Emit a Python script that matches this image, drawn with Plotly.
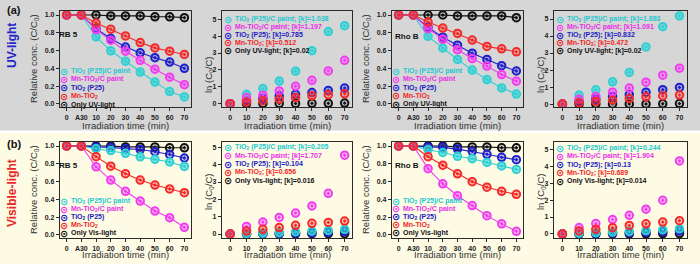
import plotly.graph_objects as go

W, H = 700, 264

# ---------------- data ----------------
conc_cats = ["0", "A30", "10", "20", "30", "40", "50", "60", "70"]
ln_times = [0, 10, 20, 30, 40, 50, 60, 70]

series_keys = ["cyan", "magenta", "blue", "red", "black"]
uv_names = ["TiO<sub>2</sub> (P25)/C paint", "Mn-TiO<sub>2</sub>/C paint",
            "TiO<sub>2</sub> (P25)", "Mn-TiO<sub>2</sub>", "Only UV-light"]
vis_names = ["TiO<sub>2</sub> (P25)/C paint", "Mn-TiO<sub>2</sub>/C paint",
             "TiO<sub>2</sub> (P25)", "Mn-TiO<sub>2</sub>", "Only Vis-light"]

k_rb5_uv = ["1.038", "1.197", "0.785", "0.512", "0.02"]
k_rhob_uv = ["1.883", "1.091", "0.832", "0.472", "0.02"]
k_rb5_vis = ["0.205", "1.707", "0.104", "0.656", "0.016"]
k_rhob_vis = ["0.244", "1.904", "0.13", "0.689", "0.014"]

# RB 5, UV light, relative concentration
rb5_uv_cyan = [1.0, 1.0, 0.754, 0.597, 0.48, 0.358, 0.246, 0.138, 0.078]
rb5_uv_magenta = [1.0, 1.0, 0.836, 0.716, 0.593, 0.49, 0.39, 0.30, 0.216]
rb5_uv_blue = [1.0, 1.0, 0.847, 0.735, 0.64, 0.575, 0.52, 0.47, 0.40]
rb5_uv_red = [1.0, 1.0, 0.91, 0.84, 0.765, 0.69, 0.63, 0.593, 0.556]
rb5_uv_black = [1.0, 1.0, 1.0, 0.99, 0.99, 0.99, 0.98, 0.98, 0.97]

# RB 5, UV light, ln(C0/C)
rb5_uv_ln_cyan = [0, 0.55, 0.89, 1.34, 1.92, 3.14, 4.27, 4.62]
rb5_uv_ln_magenta = [0, 0.36, 0.50, 0.75, 1.03, 1.38, 1.94, 2.57]
rb5_uv_ln_blue = [0, 0.17, 0.31, 0.45, 0.55, 0.66, 0.78, 0.92]
rb5_uv_ln_red = [0, 0.09, 0.17, 0.26, 0.37, 0.46, 0.53, 0.58]
rb5_uv_ln_black = [0, 0.0, 0.01, 0.01, 0.01, 0.02, 0.02, 0.03]

# Rho B, UV light, relative concentration
rhob_uv_cyan = [1.0, 1.0, 0.76, 0.628, 0.50, 0.38, 0.274, 0.18, 0.11]
rhob_uv_magenta = [1.0, 1.0, 0.846, 0.726, 0.61, 0.51, 0.425, 0.33, 0.256]
rhob_uv_blue = [1.0, 1.0, 0.86, 0.75, 0.66, 0.57, 0.50, 0.43, 0.37]
rhob_uv_red = [1.0, 1.0, 0.92, 0.853, 0.793, 0.718, 0.647, 0.62, 0.586]
rhob_uv_black = [1.0, 1.0, 1.0, 1.0, 0.99, 0.99, 0.99, 0.99, 0.97]

# Rho B, UV light, ln(C0/C)
rhob_uv_ln_cyan = [0, 0.53, 0.84, 1.31, 1.86, 3.36, 4.55, 5.18]
rhob_uv_ln_magenta = [0, 0.29, 0.45, 0.70, 0.94, 1.29, 1.70, 2.11]
rhob_uv_ln_blue = [0, 0.15, 0.29, 0.45, 0.56, 0.70, 0.85, 0.98]
rhob_uv_ln_red = [0, 0.08, 0.16, 0.23, 0.33, 0.43, 0.48, 0.53]
rhob_uv_ln_black = [0, 0.0, 0.01, 0.01, 0.01, 0.01, 0.02, 0.03]

# RB 5, visible light, relative concentration
rb5_vis_cyan = [1.0, 1.0, 0.97, 0.948, 0.918, 0.878, 0.85, 0.82, 0.77]
rb5_vis_magenta = [1.0, 1.0, 0.766, 0.617, 0.49, 0.38, 0.268, 0.193, 0.085]
rb5_vis_blue = [1.0, 1.0, 0.99, 0.985, 0.97, 0.96, 0.936, 0.905, 0.865]
rb5_vis_red = [1.0, 1.0, 0.88, 0.773, 0.688, 0.617, 0.561, 0.517, 0.475]
rb5_vis_black = [1.0, 1.0, 1.0, 1.0, 0.99, 0.99, 0.99, 0.98, 0.98]

# RB 5, visible light, ln(C0/C)
rb5_vis_ln_cyan = [0, 0.03, 0.05, 0.08, 0.13, 0.17, 0.21, 0.27]
rb5_vis_ln_magenta = [0, 0.44, 0.69, 0.96, 1.21, 1.62, 2.35, 4.55]
rb5_vis_ln_blue = [0, 0.01, 0.02, 0.03, 0.05, 0.07, 0.10, 0.14]
rb5_vis_ln_red = [0, 0.17, 0.27, 0.37, 0.50, 0.62, 0.67, 0.75]
rb5_vis_ln_black = [0, 0.0, 0.01, 0.01, 0.01, 0.02, 0.02, 0.02]

# Rho B, visible light, relative concentration
rhob_vis_cyan = [1.0, 1.0, 0.958, 0.927, 0.884, 0.857, 0.815, 0.776, 0.737]
rhob_vis_magenta = [1.0, 1.0, 0.745, 0.575, 0.44, 0.33, 0.216, 0.124, 0.04]
rhob_vis_blue = [1.0, 1.0, 0.99, 0.985, 0.965, 0.94, 0.907, 0.873, 0.846]
rhob_vis_red = [1.0, 1.0, 0.88, 0.784, 0.687, 0.598, 0.537, 0.49, 0.456]
rhob_vis_black = [1.0, 1.0, 1.0, 1.0, 0.99, 0.99, 0.99, 0.98, 0.98]

# Rho B, visible light, ln(C0/C)
rhob_vis_ln_cyan = [0, 0.04, 0.07, 0.11, 0.15, 0.20, 0.25, 0.30]
rhob_vis_ln_magenta = [0, 0.38, 0.61, 0.85, 1.10, 1.46, 1.99, 4.31]
rhob_vis_ln_blue = [0, 0.01, 0.02, 0.04, 0.07, 0.10, 0.13, 0.17]
rhob_vis_ln_red = [0, 0.18, 0.27, 0.37, 0.50, 0.60, 0.70, 0.78]
rhob_vis_ln_black = [0, 0.0, 0.0, 0.01, 0.01, 0.01, 0.02, 0.02]

# ---------------- styles ----------------
COL = {"cyan": "#2fd0d4", "magenta": "#f23cf2", "blue": "#2020cc",
       "red": "#f42a2a", "black": "#111111"}
FILL = {"cyan": "rgba(47,208,212,0.55)", "magenta": "rgba(242,60,242,0.30)",
        "blue": "rgba(32,32,204,0.25)", "red": "rgba(244,42,42,0.25)",
        "black": "rgba(17,17,17,0.12)"}
TXT = {"cyan": "#22c8d0", "magenta": "#e830e8", "blue": "#1c1cc0",
       "red": "#f02828", "black": "#111111"}
DRAW_ORDER = ["black", "blue", "cyan", "magenta", "red"]
FONT = "Liberation Sans, Arial, sans-serif"

def px(xp):
    return xp / W

def py(yp):
    return 1 - yp / H

panels = [
    dict(kind="conc", x=(60, 191), y=(11, 107), names=uv_names, ks=None,
         data=dict(cyan=rb5_uv_cyan, magenta=rb5_uv_magenta, blue=rb5_uv_blue, red=rb5_uv_red, black=rb5_uv_black),
         leg=(64, 69, 71, 8.4), label=("RB 5", 68.5, 34.5)),
    dict(kind="ln", x=(222, 352), y=(11, 107), names=uv_names, ks=k_rb5_uv, yr=(-0.2, 5.49),
         data=dict(cyan=rb5_uv_ln_cyan, magenta=rb5_uv_ln_magenta, blue=rb5_uv_ln_blue, red=rb5_uv_ln_red, black=rb5_uv_ln_black),
         leg=(228, 233, 19, 8.0), ytitle_y=75),
    dict(kind="conc", x=(392, 523), y=(11, 107), names=uv_names, ks=None,
         data=dict(cyan=rhob_uv_cyan, magenta=rhob_uv_magenta, blue=rhob_uv_blue, red=rhob_uv_red, black=rhob_uv_black),
         leg=(396, 401, 71, 8.25), label=("Rho B", 406.5, 36.7)),
    dict(kind="ln", x=(554, 687), y=(11, 107), names=uv_names, ks=k_rhob_uv, yr=(-0.17, 5.47),
         data=dict(cyan=rhob_uv_ln_cyan, magenta=rhob_uv_ln_magenta, blue=rhob_uv_ln_blue, red=rhob_uv_ln_red, black=rhob_uv_ln_black),
         leg=(560, 564.5, 19, 8.0), ytitle_y=75),
    dict(kind="conc", x=(60, 191), y=(142, 238), names=vis_names, ks=None,
         data=dict(cyan=rb5_vis_cyan, magenta=rb5_vis_magenta, blue=rb5_vis_blue, red=rb5_vis_red, black=rb5_vis_black),
         leg=(64, 69, 201.3, 8.0), label=("RB 5", 68.5, 165.3)),
    dict(kind="ln", x=(222, 352), y=(142, 238), names=vis_names, ks=k_rb5_vis, yr=(-0.23, 5.31),
         data=dict(cyan=rb5_vis_ln_cyan, magenta=rb5_vis_ln_magenta, blue=rb5_vis_ln_blue, red=rb5_vis_ln_red, black=rb5_vis_ln_black),
         leg=(228, 233, 147.3, 8.35), ytitle_y=192),
    dict(kind="conc", x=(392, 523), y=(142, 238), names=vis_names, ks=None,
         data=dict(cyan=rhob_vis_cyan, magenta=rhob_vis_magenta, blue=rhob_vis_blue, red=rhob_vis_red, black=rhob_vis_black),
         leg=(396, 401, 201, 7.9), label=("Rho B", 406.5, 165.3)),
    dict(kind="ln", x=(554, 687), y=(142, 238), names=vis_names, ks=k_rhob_vis, yr=(-0.24, 5.43),
         data=dict(cyan=rhob_vis_ln_cyan, magenta=rhob_vis_ln_magenta, blue=rhob_vis_ln_blue, red=rhob_vis_ln_red, black=rhob_vis_ln_black),
         leg=(560, 564.5, 148, 8.3), ytitle_y=192),
]

fig = go.Figure()
annotations = []
layout = {}

axis_common = dict(showline=True, mirror=True, linecolor="#2a2a2a", linewidth=1.3,
                   ticks="outside", ticklen=3, tickwidth=1, tickcolor="#2a2a2a",
                   showgrid=False, zeroline=False,
                   tickfont=dict(family=FONT, size=7, color="#222", weight="bold"))

for i, p in enumerate(panels, start=1):
    xa = "x" if i == 1 else f"x{i}"
    ya = "y" if i == 1 else f"y{i}"
    xdom = [px(p["x"][0]), px(p["x"][1])]
    ydom = [py(p["y"][1]), py(p["y"][0])]
    if p["kind"] == "conc":
        xcfg = dict(axis_common, domain=xdom, anchor=ya, type="category",
                    categoryorder="array", categoryarray=conc_cats, range=[-0.45, 8.45])
        ycfg = dict(axis_common, domain=ydom, anchor=xa, range=[-0.035, 1.045],
                    tick0=0, dtick=0.2, tickformat=".1f")
        xs = conc_cats
        mode = "lines+markers"
    else:
        xcfg = dict(axis_common, domain=xdom, anchor=ya, range=[-5, 74.5],
                    tickvals=ln_times)
        ycfg = dict(axis_common, domain=ydom, anchor=xa, range=list(p["yr"]),
                    tick0=0, dtick=1)
        xs = ln_times
        mode = "markers"
    layout["xaxis" if i == 1 else f"xaxis{i}"] = xcfg
    layout["yaxis" if i == 1 else f"yaxis{i}"] = ycfg

    for key in DRAW_ORDER:
        fig.add_trace(go.Scatter(
            x=xs, y=p["data"][key], xaxis=xa, yaxis=ya, mode=mode,
            line=dict(color=COL[key], width=1.1),
            marker=dict(symbol="circle-dot", size=7.5, color=FILL[key],
                        line=dict(color=COL[key], width=2)),
            showlegend=False, hoverinfo="skip"))

    # legend (as text)
    mx, tx, y0, step = p["leg"]
    for j, key in enumerate(series_keys):
        yy = y0 + j * step
        label = p["names"][j]
        if p["ks"] is not None:
            label = f"{label}; [k]={p['ks'][j]}"
        annotations.append(dict(x=px(mx), y=py(yy), xref="paper", yref="paper",
                                text="⊙", showarrow=False, xanchor="center", yanchor="middle",
                                font=dict(family="DejaVu Sans", size=10, color=COL[key], weight="bold")))
        annotations.append(dict(x=px(tx), y=py(yy), xref="paper", yref="paper",
                                text=label, showarrow=False, xanchor="left", yanchor="middle",
                                font=dict(family=FONT, size=7, color=TXT[key], weight="bold")))

    # axis titles
    xc = (p["x"][0] + p["x"][1]) / 2
    xt_y = 125 if p["y"][0] < 100 else 254.5
    annotations.append(dict(x=px(xc), y=py(xt_y), xref="paper", yref="paper",
                            text="Irradiation time (min)", showarrow=False,
                            xanchor="center", yanchor="middle",
                            font=dict(family=FONT, size=9.5, color="#333")))
    if p["kind"] == "conc":
        yt_x = p["x"][0] - 26
        yt_y = (p["y"][0] + p["y"][1]) / 2
        ytxt = "Relative conc. (C/C<sub>0</sub>)"
    else:
        yt_x = p["x"][0] - 13
        yt_y = p["ytitle_y"]
        ytxt = "ln (C<sub>0</sub>/C)"
    annotations.append(dict(x=px(yt_x), y=py(yt_y), xref="paper", yref="paper",
                            text=ytxt, showarrow=False, textangle=-90,
                            xanchor="center", yanchor="middle",
                            font=dict(family=FONT, size=9.5, color="#333")))
    if "label" in p:
        t, lx, ly = p["label"]
        annotations.append(dict(x=px(lx), y=py(ly), xref="paper", yref="paper",
                                text=t, showarrow=False, xanchor="center", yanchor="middle",
                                font=dict(family=FONT, size=8, color="#111", weight="bold")))

# row labels
annotations += [
    dict(x=px(14), y=py(10), xref="paper", yref="paper", text="(a)", showarrow=False,
         xanchor="center", yanchor="middle",
         font=dict(family=FONT, size=11, color="#111", weight="bold")),
    dict(x=px(12), y=py(46), xref="paper", yref="paper", text="UV-light", showarrow=False,
         xanchor="center", yanchor="middle", textangle=-90,
         font=dict(family=FONT, size=12, color="#2424c8", weight="bold")),
    dict(x=px(14), y=py(144), xref="paper", yref="paper", text="(b)", showarrow=False,
         xanchor="center", yanchor="middle",
         font=dict(family=FONT, size=11, color="#111", weight="bold")),
    dict(x=px(12), y=py(193), xref="paper", yref="paper", text="Visible-light", showarrow=False,
         xanchor="center", yanchor="middle", textangle=-90,
         font=dict(family=FONT, size=12, color="#e82828", weight="bold")),
]

shapes = [
    dict(type="rect", xref="paper", yref="paper", x0=0, x1=1, y0=py(130.5), y1=1,
         fillcolor="#d6d6d6", line=dict(width=0), layer="below"),
    dict(type="rect", xref="paper", yref="paper", x0=0, x1=1, y0=0, y1=py(133),
         fillcolor="#fdfbe4", line=dict(width=0), layer="below"),
]

fig.update_layout(
    width=W, height=H, margin=dict(l=0, r=0, t=0, b=0),
    paper_bgcolor="white", plot_bgcolor="rgba(0,0,0,0)",
    showlegend=False, annotations=annotations, shapes=shapes,
    font=dict(family=FONT), **layout)

fig.write_html("out.html", config={"displayModeBar": False},
               post_script="document.body.style.margin='0';document.body.style.padding='0';document.body.style.overflow='hidden';")
